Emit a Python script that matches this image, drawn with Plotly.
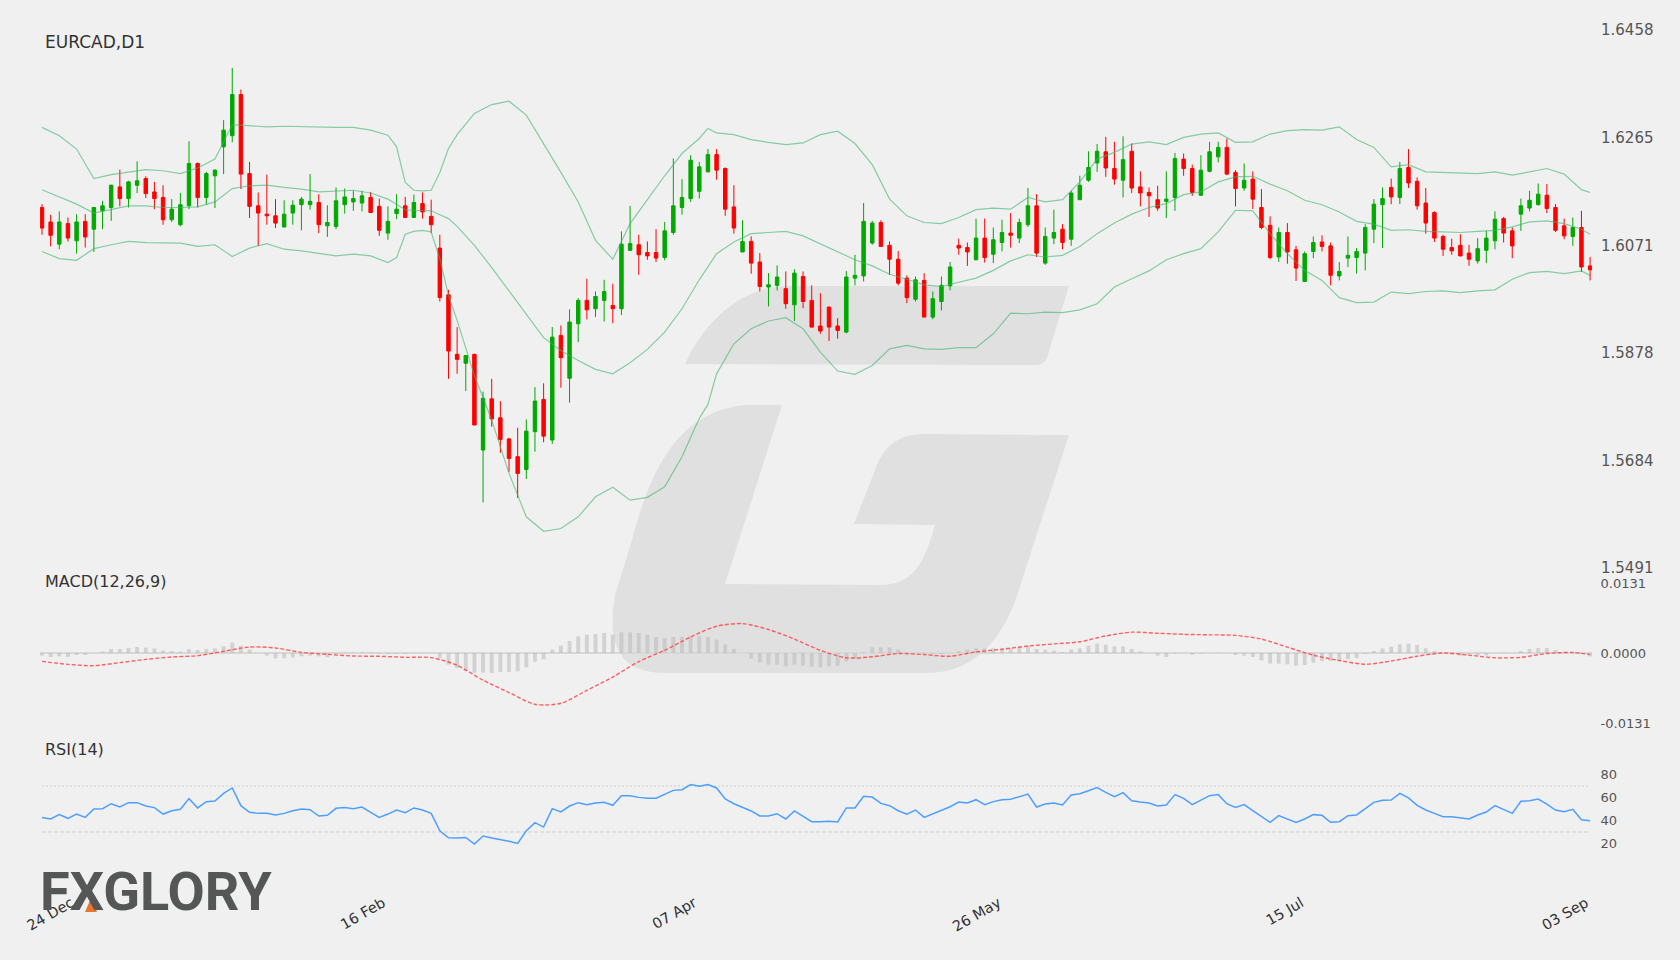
import plotly.graph_objects as go

BARS = list(range(180))

opens = [
    1.6139,1.6113,1.6073,1.6110,1.6079,1.6114,1.6100,1.6133,1.6139,1.6176,
    1.6155,1.6179,1.6191,1.6167,1.6157,1.6117,1.6108,1.6142,1.6218,1.6157,
    1.6196,1.6248,1.6268,1.6342,1.6200,1.6142,1.6127,1.6124,1.6104,1.6129,
    1.6144,1.6144,1.6148,1.6106,1.6105,1.6144,1.6149,1.6147,1.6157,1.6141,
    1.6093,1.6128,1.6142,1.6121,1.6146,1.6123,1.6066,1.5982,1.5875,1.5859,
    1.5875,1.5703,1.5795,1.5761,1.5723,1.5691,1.5668,1.5736,1.5794,1.5721,
    1.5909,1.5832,1.5930,1.5972,1.5957,1.5972,1.5963,1.5957,1.6062,1.6072,
    1.6058,1.6058,1.6049,1.6094,1.6139,1.6155,1.6168,1.6203,1.6234,1.6209,
    1.6140,1.6059,1.6078,1.6041,1.5996,1.5999,1.5993,1.5964,1.6015,1.5972,
    1.5926,1.5960,1.5926,1.5915,1.6012,1.6016,1.6075,1.6112,1.6071,1.6046,
    1.6012,1.5974,1.6008,1.5942,1.5970,1.5998,1.6071,1.6067,1.6045,1.6084,
    1.6055,1.6076,1.6093,1.6084,1.6108,1.6142,1.6039,1.6084,1.6100,1.6082,
    1.6153,1.6188,1.6219,1.6239,1.6209,1.6188,1.6240,1.6176,1.6166,1.6153,
    1.6150,1.6157,1.6226,1.6209,1.6161,1.6204,1.6230,1.6247,1.6202,1.6174,
    1.6190,1.6139,1.6107,1.6050,1.6094,1.6063,1.6006,1.6060,1.6077,1.6070,
    1.6016,1.6048,1.6049,1.6057,1.6100,1.6144,1.6175,1.6157,1.6211,1.6186,
    1.6147,1.6130,1.6087,1.6067,1.6071,1.6057,1.6043,1.6062,1.6079,1.6119,
    1.6097,1.6127,1.6138,1.6144,1.6161,1.6139,1.6106,1.6087,1.6103,1.6034,
]
highs = [
    1.6145,1.6126,1.6132,1.6121,1.6127,1.6127,1.6139,1.6151,1.6180,1.6207,
    1.6187,1.6222,1.6195,1.6185,1.6179,1.6154,1.6165,1.6258,1.6220,1.6203,
    1.6208,1.6296,1.6390,1.6351,1.6221,1.6166,1.6198,1.6154,1.6152,1.6152,
    1.6158,1.6199,1.6163,1.6143,1.6175,1.6173,1.6169,1.6169,1.6167,1.6155,
    1.6141,1.6163,1.6158,1.6162,1.6166,1.6153,1.6090,1.5991,1.5924,1.5873,
    1.5876,1.5808,1.5831,1.5791,1.5725,1.5743,1.5758,1.5816,1.5823,1.5924,
    1.5927,1.5956,1.5976,1.6011,1.5988,1.6009,1.6002,1.6096,1.6142,1.6090,
    1.6078,1.6100,1.6113,1.6227,1.6190,1.6233,1.6221,1.6244,1.6244,1.6211,
    1.6179,1.6116,1.6087,1.6057,1.6021,1.6035,1.6024,1.6028,1.6024,1.5999,
    1.5985,1.5960,1.5940,1.6025,1.6054,1.6147,1.6115,1.6116,1.6078,1.6061,
    1.6017,1.6015,1.6021,1.5988,1.6015,1.6041,1.6083,1.6076,1.6119,1.6119,
    1.6103,1.6117,1.6129,1.6119,1.6174,1.6163,1.6103,1.6135,1.6109,1.6169,
    1.6196,1.6240,1.6253,1.6266,1.6257,1.6267,1.6254,1.6204,1.6175,1.6178,
    1.6204,1.6237,1.6236,1.6216,1.6233,1.6257,1.6257,1.6263,1.6206,1.6218,
    1.6204,1.6172,1.6123,1.6103,1.6111,1.6070,1.6060,1.6087,1.6089,1.6076,
    1.6041,1.6087,1.6066,1.6109,1.6154,1.6175,1.6191,1.6221,1.6244,1.6193,
    1.6174,1.6132,1.6090,1.6083,1.6091,1.6072,1.6084,1.6097,1.6132,1.6122,
    1.6103,1.6155,1.6169,1.6182,1.6181,1.6145,1.6119,1.6121,1.6133,1.6050,
]
lows = [
    1.6090,1.6069,1.6064,1.6078,1.6056,1.6067,1.6059,1.6100,1.6115,1.6141,
    1.6139,1.6165,1.6156,1.6136,1.6108,1.6113,1.6105,1.6136,1.6139,1.6144,
    1.6138,1.6199,1.6256,1.6172,1.6120,1.6070,1.6108,1.6102,1.6103,1.6108,
    1.6098,1.6135,1.6093,1.6086,1.6100,1.6128,1.6133,1.6132,1.6129,1.6088,
    1.6081,1.6118,1.6120,1.6120,1.6119,1.6093,1.5970,1.5831,1.5840,1.5809,
    1.5748,1.5609,1.5745,1.5698,1.5664,1.5617,1.5651,1.5700,1.5717,1.5714,
    1.5815,1.5788,1.5897,1.5938,1.5942,1.5934,1.5931,1.5946,1.6061,1.6018,
    1.6045,1.6041,1.6044,1.6090,1.6126,1.6149,1.6155,1.6202,1.6189,1.6124,
    1.6092,1.6059,1.6020,1.5988,1.5961,1.5990,1.5957,1.5935,1.5958,1.5924,
    1.5912,1.5899,1.5903,1.5913,1.5999,1.6006,1.6072,1.6068,1.6018,1.5999,
    1.5967,1.5970,1.5942,1.5938,1.5954,1.5990,1.6054,1.6034,1.6044,1.6040,
    1.6039,1.6060,1.6067,1.6075,1.6104,1.6050,1.6036,1.6073,1.6064,1.6070,
    1.6153,1.6185,1.6203,1.6194,1.6180,1.6157,1.6165,1.6141,1.6122,1.6133,
    1.6120,1.6133,1.6196,1.6160,1.6160,1.6202,1.6220,1.6197,1.6141,1.6169,
    1.6136,1.6100,1.6046,1.6041,1.6038,1.6007,1.6005,1.6048,1.6060,1.5999,
    1.6008,1.6032,1.6020,1.6026,1.6075,1.6066,1.6145,1.6145,1.6174,1.6135,
    1.6092,1.6077,1.6052,1.6054,1.6051,1.6034,1.6038,1.6039,1.6064,1.6076,
    1.6048,1.6097,1.6132,1.6143,1.6129,1.6095,1.6082,1.6070,1.6023,1.6008,
]
closes = [
    1.6102,1.6089,1.6113,1.6084,1.6113,1.6086,1.6139,1.6142,1.6179,1.6155,
    1.6185,1.6187,1.6164,1.6155,1.6117,1.6136,1.6144,1.6218,1.6157,1.6200,
    1.6206,1.6278,1.6342,1.6199,1.6141,1.6129,1.6124,1.6111,1.6127,1.6143,
    1.6154,1.6150,1.6108,1.6112,1.6151,1.6158,1.6155,1.6160,1.6130,1.6098,
    1.6114,1.6136,1.6121,1.6148,1.6131,1.6108,1.5977,1.5881,1.5866,1.5873,
    1.5748,1.5796,1.5759,1.5722,1.5688,1.5661,1.5737,1.5791,1.5728,1.5906,
    1.5869,1.5933,1.5972,1.5955,1.5979,1.5988,1.5957,1.6073,1.6074,1.6054,
    1.6052,1.6048,1.6097,1.6142,1.6157,1.6224,1.6212,1.6234,1.6206,1.6136,
    1.6102,1.6078,1.6039,1.5997,1.6000,1.6014,1.5966,1.6021,1.5970,1.5924,
    1.5917,1.5924,1.5918,1.6014,1.6017,1.6114,1.6111,1.6069,1.6046,1.6003,
    1.5977,1.6009,1.5942,1.5975,1.5999,1.6032,1.6066,1.6059,1.6084,1.6049,
    1.6081,1.6094,1.6089,1.6112,1.6142,1.6057,1.6087,1.6094,1.6076,1.6165,
    1.6179,1.6211,1.6240,1.6210,1.6190,1.6225,1.6174,1.6165,1.6160,1.6138,
    1.6154,1.6227,1.6209,1.6166,1.6206,1.6239,1.6247,1.6199,1.6173,1.6188,
    1.6154,1.6103,1.6049,1.6094,1.6059,1.6030,1.6056,1.6076,1.6069,1.6017,
    1.6024,1.6053,1.6060,1.6103,1.6145,1.6155,1.6158,1.6209,1.6183,1.6142,
    1.6111,1.6084,1.6064,1.6061,1.6052,1.6046,1.6065,1.6084,1.6118,1.6093,
    1.6070,1.6142,1.6152,1.6163,1.6137,1.6098,1.6088,1.6103,1.6032,1.6027,
]

# Bandas de Bollinger, leidas cada dos velas (una a una donde hay quiebres)
bb_bars = [
    0,2,4,6,8,10,12,14,16,18,20,22,24,26,28,30,32,34,36,38,40,41,42,43,44,45,46,47,48,50,52,54,56,58,
    60,62,64,66,68,70,72,74,76,77,78,80,82,84,86,88,90,92,94,96,98,100,102,104,106,108,110,
    112,114,116,118,120,122,124,126,128,130,132,134,136,138,140,142,144,146,148,150,152,
    154,156,158,160,162,164,166,168,170,172,174,176,178,179,
]
bb_upper = [
    1.6283,1.6268,1.6244,1.6191,1.6198,1.6202,1.6207,1.6205,1.6200,1.6210,
    1.6226,1.6288,1.6286,1.6284,1.6285,1.6284,1.6283,1.6283,1.6283,1.6278,
    1.6269,1.6248,1.6184,1.6170,1.6169,1.6170,1.6202,1.6245,1.6270,1.6308,1.6324,1.6330,1.6305,1.6254,
    1.6202,1.6149,1.6080,1.6046,1.6110,1.6153,1.6196,1.6236,1.6263,1.6281,1.6273,
    1.6270,1.6261,1.6256,1.6252,1.6255,1.6270,1.6276,1.6254,1.6216,1.6154,
    1.6124,1.6112,1.6110,1.6121,1.6135,1.6138,1.6136,1.6157,1.6149,1.6153,
    1.6185,1.6226,1.6238,1.6253,1.6257,1.6252,1.6265,1.6271,1.6273,1.6256,
    1.6257,1.6271,1.6277,1.6279,1.6278,1.6284,1.6261,1.6247,1.6212,1.6216,
    1.6203,1.6202,1.6201,1.6200,1.6203,1.6197,1.6203,1.6209,1.6199,1.6171,1.6166,
]
bb_mid = [
    1.6171,1.6158,1.6145,1.6129,1.6136,1.6142,1.6142,1.6139,1.6139,1.6140,
    1.6149,1.6173,1.6178,1.6179,1.6175,1.6172,1.6167,1.6168,1.6170,1.6165,
    1.6154,1.6145,1.6135,1.6134,1.6134,1.6133,1.6126,1.6119,1.6105,1.6071,1.6031,1.5989,1.5945,1.5905,
    1.5882,1.5864,1.5848,1.5840,1.5860,1.5884,1.5915,1.5957,1.6009,1.6032,1.6056,
    1.6077,1.6092,1.6094,1.6096,1.6088,1.6074,1.6059,1.6045,1.6034,1.6019,
    1.6010,1.6000,1.5997,1.6005,1.6012,1.6026,1.6043,1.6054,1.6050,1.6053,
    1.6069,1.6092,1.6111,1.6127,1.6139,1.6146,1.6162,1.6167,1.6185,1.6194,
    1.6195,1.6181,1.6169,1.6152,1.6144,1.6131,1.6114,1.6109,1.6098,1.6099,
    1.6096,1.6095,1.6094,1.6096,1.6098,1.6104,1.6113,1.6115,1.6110,1.6100,1.6091,
]
bb_lower = [
    1.6060,1.6047,1.6044,1.6065,1.6072,1.6078,1.6076,1.6075,1.6075,1.6069,
    1.6072,1.6051,1.6066,1.6074,1.6064,1.6061,1.6056,1.6052,1.6055,1.6052,
    1.6040,1.6049,1.6091,1.6096,1.6098,1.6095,1.6047,1.5981,1.5936,1.5837,1.5757,1.5661,1.5583,1.5557,
    1.5562,1.5583,1.5619,1.5636,1.5613,1.5618,1.5637,1.5691,1.5760,1.5785,1.5840,
    1.5894,1.5921,1.5935,1.5941,1.5921,1.5879,1.5845,1.5839,1.5855,1.5885,
    1.5891,1.5885,1.5884,1.5887,1.5887,1.5912,1.5949,1.5948,1.5951,1.5950,
    1.5955,1.5966,1.5996,1.6011,1.6025,1.6045,1.6056,1.6065,1.6095,1.6134,
    1.6133,1.6092,1.6056,1.6026,1.6008,1.5977,1.5968,1.5969,1.5987,1.5984,
    1.5988,1.5989,1.5986,1.5989,1.5991,1.6010,1.6022,1.6024,1.6020,1.6025,1.6017,
]

# MACD(12,26,9): linea leida cada tres velas, histograma vela a vela
macd_bars = [
    0,3,6,9,12,15,18,21,24,27,30,33,36,39,42,45,48,51,54,57,60,63,66,69,72,75,78,81,84,87,
    90,93,96,99,102,105,108,111,114,117,120,123,126,129,132,135,138,141,144,147,150,153,
    156,159,162,165,168,171,174,177,179,
]
macd_line = [
    -0.00156,-0.00212,-0.00237,-0.00181,-0.00119,-0.00075,-0.00050,0.00031,0.00112,0.00094,
    0.00012,-0.00025,-0.00056,-0.00062,-0.00081,-0.00087,-0.0023,-0.0051,-0.0074,-0.0096,
    -0.0094,-0.0070,-0.0045,-0.0016,0.0005,0.0030,0.0050,0.0055,0.0044,0.0026,
    0.0005,-0.0009,-0.0007,-0.0001,-0.0003,-0.0006,0.0002,0.0007,0.0013,0.0017,
    0.0021,0.0032,0.0039,0.0037,0.0035,0.0034,0.0033,0.0026,0.0011,-0.0004,
    -0.0014,-0.0021,-0.0015,-0.0006,0.0000,-0.0004,-0.0009,-0.0008,-0.0001,0.0001,-0.0003,
]
macd_hist = [
    -0.0005,-0.00075,-0.00062,-0.00075,-0.00037,-0.00037,0,0.00025,0.00075,0.00075,
    0.00094,0.00112,0.001,0.00087,0.00044,0.00037,0.00025,0.00075,0.00056,0.00075,
    0.00087,0.00131,0.00193,0.00137,0.00062,0,-0.0005,-0.001,-0.001,-0.00081,
    -0.00062,-0.0005,-0.00062,-0.00081,-0.00019,0.00012,0.00012,0.00019,0.00012,-0.00012,
    -0.00019,-0.00012,-0.00019,-0.00006,-0.00006,-0.00006,-0.00094,-0.00218,-0.00281,-0.00337,
    -0.00368,-0.00368,-0.00374,-0.00356,-0.00356,-0.00343,-0.00268,-0.00162,-0.00119,0.00062,
    0.00137,0.00225,0.00312,0.00343,0.00356,0.00374,0.00343,0.00387,0.00387,0.00374,
    0.00343,0.003,0.00281,0.003,0.003,0.00312,0.00312,0.003,0.0025,0.00162,
    0.00075,0,-0.00106,-0.00175,-0.00218,-0.00218,-0.0025,-0.00218,-0.00237,-0.00256,
    -0.00268,-0.0025,-0.00237,-0.00156,-0.00094,0.00019,0.00106,0.00106,0.00106,0.00062,
    0,0,-0.00019,-0.00012,-0.00019,0,0.00037,0.00062,0.00087,0.00087,
    0.00087,0.00075,0.00087,0.00112,0.00137,0.00075,0.00062,0.00044,0.00019,0.00062,
    0.00087,0.00137,0.00175,0.00156,0.00125,0.00125,0.00075,0.00031,0,-0.0005,
    -0.00075,-0.00012,0,-0.00031,-0.00012,0,0.00006,0,-0.00037,-0.0005,
    -0.00075,-0.00137,-0.002,-0.002,-0.00212,-0.00237,-0.00225,-0.00181,-0.0015,-0.0015,
    -0.00156,-0.00119,-0.00094,-0.00019,0.00037,0.00087,0.00119,0.00162,0.00175,0.0015,
    0.00087,0.00037,0,-0.00025,-0.0005,-0.00019,-0.0005,-0.00044,0,0.00012,
    0,0.00037,0.00075,0.00094,0.00094,0.00056,0.00012,0,-0.00019,-0.00062,
]

# RSI(14)
rsi = [
    42.7,41.3,45.1,41.9,45.6,42.7,50.0,50.3,54.6,51.7,
    55.5,55.5,52.6,51.2,45.6,48.5,49.7,59.0,50.9,56.4,
    57.0,63.6,68.3,52.9,47.1,46.2,46.2,44.8,46.2,48.5,
    50.0,49.4,43.9,44.5,50.6,51.2,50.3,51.7,47.1,42.7,
    45.6,49.1,46.8,50.9,49.1,46.2,31.1,25.0,24.8,25.3,
    19.5,26.5,24.8,23.6,21.9,20.1,31.1,38.1,34.3,50.3,
    47.4,52.6,55.5,53.8,55.2,55.8,53.2,61.6,61.6,60.1,
    59.3,59.3,62.5,66.2,66.8,71.2,69.7,71.2,68.3,58.7,
    54.6,51.7,48.3,43.9,43.9,45.9,41.3,48.3,43.9,39.0,
    39.0,39.3,38.7,50.9,50.9,61.0,60.4,54.9,52.9,48.5,
    45.4,49.1,42.7,45.6,48.5,52.0,56.1,55.2,58.1,53.8,
    56.4,58.1,58.4,60.4,63.0,51.7,54.3,55.2,53.5,62.2,
    63.3,65.9,68.6,64.5,60.7,64.2,57.2,56.1,55.2,52.6,
    53.5,62.5,59.3,53.8,57.8,61.6,62.5,54.6,51.4,53.8,
    48.5,43.3,38.4,44.2,41.3,38.4,41.3,45.1,44.5,38.4,
    39.0,44.2,44.8,50.6,55.8,57.5,57.8,63.6,59.6,53.2,
    49.1,46.2,43.3,43.3,42.2,41.3,44.8,47.4,52.9,49.4,
    46.2,56.7,57.2,58.7,54.3,49.1,47.7,49.7,40.7,39.8,
]
rsi_levels = [70, 30]

# Etiquetas de ejes
date_bars = [3.4, 39.4, 75.4, 110.6, 145.6, 178.5]
date_labels = ["24 Dec", "16 Feb", "07 Apr", "26 May", "15 Jul", "03 Sep"]
price_ticks = [1.5491, 1.5684, 1.5878, 1.6071, 1.6265, 1.6458]
macd_ticks = [-0.0131, 0.0, 0.0131]
rsi_ticks = [20, 40, 60, 80]

BG = "#f0f0f0"
WIDTH = 1680
HEIGHT = 960
FUENTE = "DejaVu Sans"
BANDA = "rgba(60,180,110,0.6)"


def px(x, y):
    # pixel de la imagen -> coordenadas paper, para marca de agua y logo
    return f"{x / WIDTH:.5f},{1 - y / HEIGHT:.5f}"


def dom(top, bottom):
    return [1 - bottom / HEIGHT, 1 - top / HEIGHT]


fig = go.Figure()

fig.add_trace(go.Candlestick(
    x=BARS, open=opens, high=highs, low=lows, close=closes,
    increasing=dict(line=dict(color="#00a800", width=1), fillcolor="#00a800"),
    decreasing=dict(line=dict(color="#ff0000", width=1), fillcolor="#ff0000"),
    whiskerwidth=0,
    showlegend=False,
))

for banda in [bb_upper, bb_mid, bb_lower]:
    fig.add_scatter(x=bb_bars, y=banda, mode="lines", line=dict(color=BANDA, width=1.2),
                    showlegend=False, yaxis="y")

fig.add_bar(x=BARS, y=macd_hist, marker=dict(color="rgba(185,185,185,0.55)", line_width=0),
            showlegend=False, yaxis="y2")
fig.add_scatter(x=macd_bars, y=macd_line, mode="lines",
                line=dict(color="rgba(255,70,70,0.85)", width=1.4, dash="4px,2px",
                          shape="spline", smoothing=0.8),
                showlegend=False, yaxis="y2")

# Niveles del RSI: arriba punteado, abajo a rayas
for nivel, trazo in zip(rsi_levels, ["2px,2px", "4px,2px"]):
    fig.add_scatter(x=[BARS[0], BARS[-1]], y=[nivel, nivel], mode="lines",
                    line=dict(color="#cfcfcf", width=1, dash=trazo),
                    showlegend=False, yaxis="y3")
fig.add_scatter(x=BARS, y=rsi, mode="lines", line=dict(color="#4d9fff", width=1.5),
                showlegend=False, yaxis="y3")

# Marca de agua
marca_arriba = (
    f"M {px(685, 364)} C {px(700, 330)} {px(735, 286)} {px(790, 286)} L {px(1069, 286)} "
    f"L {px(1047, 358)} Q {px(1044, 365)} {px(1036, 365)} Z"
)
marca_abajo = (
    f"M {px(782, 405)} L {px(745, 405)} C {px(690, 410)} {px(655, 450)} {px(632, 540)} "
    f"L {px(615, 595)} C {px(608, 640)} {px(615, 673)} {px(665, 673)} L {px(925, 673)} "
    f"C {px(975, 673)} {px(1005, 640)} {px(1022, 580)} L {px(1069, 435)} L {px(925, 434)} "
    f"C {px(895, 434)} {px(882, 450)} {px(875, 470)} L {px(854, 524)} L {px(935, 525)} "
    f"C {px(925, 560)} {px(915, 585)} {px(880, 585)} L {px(725, 584)} Z"
)
formas = [
    dict(type="path", xref="paper", yref="paper", path=p, fillcolor="#e0e0e0",
         line_width=0, layer="below")
    for p in (marca_arriba, marca_abajo)
]
# Triangulo naranja del logo, en el hueco de la X
formas.append(dict(type="path", xref="paper", yref="paper",
                   path=f"M {px(85, 912)} L {px(91, 898)} L {px(97, 912)} Z",
                   fillcolor="#e8772e", line_width=0))

titulos = [("EURCAD,D1", 42, 17), ("MACD(12,26,9)", 581, 16), ("RSI(14)", 749, 16)]
notas = [
    dict(text=t, xref="paper", yref="paper", x=43 / WIDTH, y=1 - yy / HEIGHT, xanchor="left",
         yanchor="middle", showarrow=False, font=dict(family=FUENTE, size=tam, color="#333333"))
    for t, yy, tam in titulos
]
notas.append(dict(text="<b>FXGLORY</b>", xref="paper", yref="paper", x=38 / WIDTH,
                  y=1 - 891 / HEIGHT, xanchor="left", yanchor="middle", showarrow=False,
                  font=dict(family="Roboto", size=54, color="#555756")))

eje_y = dict(side="right", anchor="x", showgrid=False, zeroline=False, showline=False,
             ticks="outside", ticklen=5, tickcolor="rgba(0,0,0,0)", tickmode="array",
             automargin=False)

fig.update_layout(
    width=WIDTH,
    height=HEIGHT,
    margin=dict(l=0, r=0, t=0, b=0),
    paper_bgcolor=BG,
    plot_bgcolor="rgba(0,0,0,0)",
    bargap=0.55,
    boxgap=0.6,
    boxgroupgap=0,
    showlegend=False,
    shapes=formas,
    annotations=notas,
    xaxis=dict(
        domain=[40 / WIDTH, 1592 / WIDTH],
        range=[-0.23, 179.22],
        anchor="free",
        position=1 - 891 / HEIGHT,
        automargin=False,
        rangeslider=dict(visible=False),
        showgrid=False, zeroline=False, showline=False, ticks="",
        tickmode="array", tickvals=date_bars, ticktext=date_labels, tickangle=-30,
        tickfont=dict(family=FUENTE, size=14.5, color="#333333"),
    ),
    yaxis=dict(eje_y, domain=dom(30, 568), range=[1.5491, 1.6458], tickvals=price_ticks,
               ticktext=[f"{v:.4f}" for v in price_ticks],
               tickfont=dict(family=FUENTE, size=15, color="#555555")),
    yaxis2=dict(eje_y, domain=dom(583, 723), range=[-0.0131, 0.0131], tickvals=macd_ticks,
                ticktext=[f"{v:.4f}" for v in macd_ticks],
                zeroline=True, zerolinecolor="#d8d8d8", zerolinewidth=1.5,
                tickfont=dict(family=FUENTE, size=13, color="#555555")),
    yaxis3=dict(eje_y, domain=dom(751.5, 866.5), range=[0, 100], tickvals=rsi_ticks,
                ticktext=[str(v) for v in rsi_ticks],
                tickfont=dict(family=FUENTE, size=13, color="#555555")),
)

# Sin margen del body para que el grafico ocupe toda la ventana
fig.write_html("out.html", config={"displayModeBar": False},
               post_script="document.body.style.margin='0';document.body.style.background='#f0f0f0';")
